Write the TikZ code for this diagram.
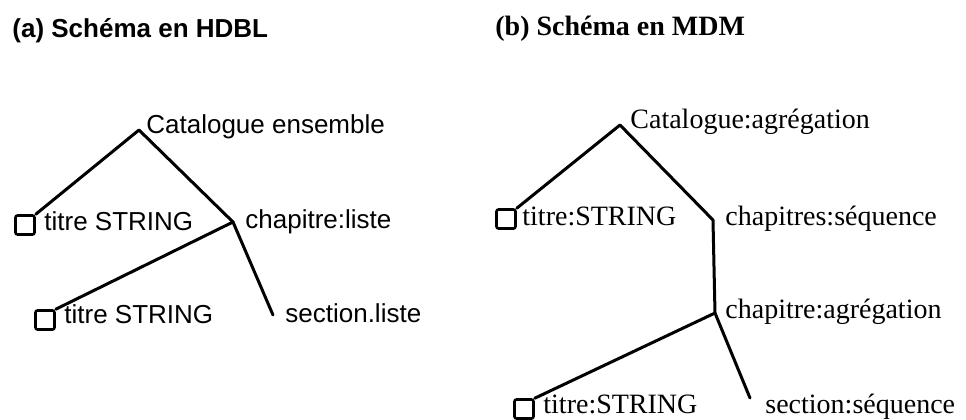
\documentclass[tikz,border=0pt]{standalone}
\usepackage{fontspec}
\setmainfont{Liberation Serif}
\newfontfamily\fasans{Liberation Sans}
\begin{document}
\begin{tikzpicture}[x=0.5pt,y=-0.5pt,
  link/.style={line width=1.5pt,line cap=round,line join=round},
  leaf/.style={draw,line width=1.3pt,rounded corners=1pt,minimum size=9.5pt,inner sep=0pt},
  lbla/.style={anchor=base west,inner sep=0pt,font=\fasans\fontsize{13}{15}\selectfont},
  lblb/.style={anchor=base west,inner sep=0pt,font=\fontsize{14}{16}\selectfont},
  ttla/.style={anchor=base west,inner sep=0pt,font=\fasans\bfseries\fontsize{13}{15}\selectfont},
  ttlb/.style={anchor=base west,inner sep=0pt,font=\bfseries\fontsize{14}{16}\selectfont}]
\path[use as bounding box] (0,0) rectangle (966,419);

% ---------- (a) ----------
\node[ttla] (tA) at (12,37) {(a) Schéma en HDBL};
\coordinate (apexA) at (139,130);
\coordinate (jointA) at (233,222);
\coordinate (secA) at (273,315);
\node[lbla] (catA) at (146,133) {Catalogue ensemble};
\node[leaf] (boxA1) at (25,225) {};
\node[lbla] (titA1) at (44,230) {titre STRING};
\node[lbla] (chapA) at (245,228) {chapitre:liste};
\node[leaf] (boxA2) at (45,320) {};
\node[lbla] (titA2) at (64,323) {titre STRING};
\node[lbla] (secAl) at (285,322) {section.liste};
\draw[link] (boxA1.north east) -- (apexA) -- (jointA) -- (secA);
\draw[link] (jointA) -- (boxA2.north east);

% ---------- (b) ----------
\node[ttlb] (tB) at (495,35) {(b) Schéma en MDM};
\coordinate (apexB) at (620,125);
\coordinate (bendB) at (713,220);
\coordinate (jointB) at (715,313);
\coordinate (secB) at (750,398);
\node[lblb] (catB) at (630,128) {Catalogue:agrégation};
\node[leaf] (boxB1) at (506,219) {};
\node[lblb] (titB1) at (522,225) {titre:STRING};
\node[lblb] (chapsB) at (725,225) {chapitres:séquence};
\node[lblb] (chapB) at (725,318) {chapitre:agrégation};
\node[leaf] (boxB2) at (524,409) {};
\node[lblb] (titB2) at (543,413) {titre:STRING};
\node[lblb] (secBl) at (765,413) {section:séquence};
\draw[link] (boxB1.north east) -- (apexB) -- (bendB) -- (jointB) -- (secB);
\draw[link] (jointB) -- (boxB2.north east);
\end{tikzpicture}
\end{document}
